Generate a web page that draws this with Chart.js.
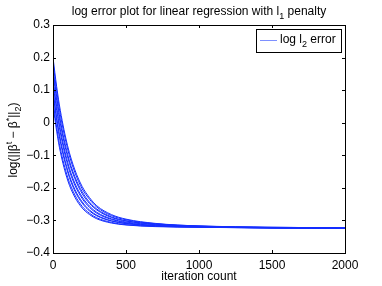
<!DOCTYPE html>
<html>
<head>
<meta charset="utf-8">
<script src="https://cdn.jsdelivr.net/npm/chart.js@4"></script>
<style>
  html, body { margin: 0; padding: 0; background: #fff; }
  #wrap { width: 382px; height: 286px; }
</style>
</head>
<body>
<div id="wrap"><canvas id="errChart" width="382" height="286"></canvas></div>
<script>
const iterations = [0, 25, 50, 100, 150, 200, 250, 300, 400, 500, 700, 1000, 1500, 2000];

// log l2 error, one array per run
const run1  = [0.200, 0.111, 0.038, -0.071, -0.145, -0.196, -0.230, -0.255, -0.282, -0.296, -0.309, -0.317, -0.321, -0.323];
const run2  = [0.186, 0.098, 0.026, -0.081, -0.153, -0.203, -0.235, -0.259, -0.285, -0.298, -0.310, -0.317, -0.321, -0.323];
const run3  = [0.165, 0.080, 0.008, -0.097, -0.166, -0.212, -0.244, -0.265, -0.289, -0.301, -0.311, -0.318, -0.322, -0.324];
const run4  = [0.155, 0.069, -0.002, -0.105, -0.172, -0.218, -0.248, -0.268, -0.291, -0.302, -0.312, -0.318, -0.322, -0.324];
const run5  = [0.133, 0.049, -0.020, -0.121, -0.186, -0.228, -0.256, -0.275, -0.295, -0.305, -0.313, -0.319, -0.322, -0.324];
const run6  = [0.122, 0.038, -0.030, -0.129, -0.192, -0.233, -0.260, -0.278, -0.297, -0.307, -0.315, -0.319, -0.323, -0.324];
const run7  = [0.100, 0.016, -0.050, -0.145, -0.205, -0.243, -0.268, -0.284, -0.301, -0.309, -0.316, -0.320, -0.323, -0.324];
const run8  = [0.091, 0.008, -0.058, -0.151, -0.210, -0.247, -0.271, -0.286, -0.302, -0.310, -0.317, -0.320, -0.323, -0.324];
const run9  = [0.068, -0.014, -0.078, -0.167, -0.222, -0.257, -0.278, -0.292, -0.306, -0.313, -0.318, -0.321, -0.323, -0.324];
const run10 = [0.055, -0.026, -0.089, -0.176, -0.229, -0.262, -0.282, -0.295, -0.308, -0.314, -0.319, -0.321, -0.323, -0.324];
const runs = [run1, run2, run3, run4, run5, run6, run7, run8, run9, run10];

const xTicks = [0, 500, 1000, 1500, 2000];
const yTicks = [-0.4, -0.3, -0.2, -0.1, 0, 0.1, 0.2, 0.3];

const FONT = "'Liberation Sans', Arial, Helvetica, sans-serif";
const BLUE = "rgb(20, 45, 255)";

// draw text pieces with sub/superscripts
function richText(ctx, parts, x, y, size, align) {
  const small = Math.round(size * 0.72);
  let total = 0;
  parts.forEach(p => {
    ctx.font = (p.sub || p.sup ? small : size) + "px " + FONT;
    p.w = ctx.measureText(p.t).width;
    total += p.w;
  });
  let cx = align === "center" ? x - total / 2 : x;
  ctx.textAlign = "left";
  ctx.textBaseline = "alphabetic";
  parts.forEach(p => {
    ctx.font = (p.sub || p.sup ? small : size) + "px " + FONT;
    const dy = p.sub ? size * 0.3 : p.sup ? -size * 0.45 : 0;
    ctx.fillText(p.t, cx, y + dy);
    cx += p.w;
  });
}

const matlabLook = {
  id: "matlabLook",
  afterDraw(chart) {
    const ctx = chart.ctx;
    const a = chart.chartArea;
    const xs = chart.scales.x, ys = chart.scales.y;
    ctx.save();
    ctx.strokeStyle = "#000";
    ctx.lineWidth = 1;
    // box
    ctx.strokeRect(Math.round(a.left) + 0.5, Math.round(a.top) + 0.5,
      Math.round(a.right - a.left), Math.round(a.bottom - a.top));
    // inward ticks on all sides
    ctx.beginPath();
    xTicks.forEach(v => {
      const px = Math.round(xs.getPixelForValue(v)) + 0.5;
      ctx.moveTo(px, a.bottom); ctx.lineTo(px, a.bottom - 3);
      ctx.moveTo(px, a.top); ctx.lineTo(px, a.top + 3);
    });
    yTicks.forEach(v => {
      const py = Math.round(ys.getPixelForValue(v)) + 0.5;
      ctx.moveTo(a.left, py); ctx.lineTo(a.left + 3, py);
      ctx.moveTo(a.right, py); ctx.lineTo(a.right - 3, py);
    });
    ctx.stroke();

    ctx.fillStyle = "#000";
    // title
    richText(ctx, [
      { t: "log error plot for linear regression with l" },
      { t: "1", sub: true },
      { t: " penalty" }
    ], 199, 15, 12, "center");

    // x label
    richText(ctx, [{ t: "iteration count" }], 199, 280, 12, "center");

    // y label, rotated
    ctx.save();
    ctx.translate(17, 140);
    ctx.rotate(-Math.PI / 2);
    richText(ctx, [
      { t: "log(||\u03b2" },
      { t: "t", sup: true },
      { t: " \u2212 \u03b2" },
      { t: "*", sup: true },
      { t: "||" },
      { t: "2", sub: true },
      { t: ")" }
    ], 0, 0, 12, "center");
    ctx.restore();

    // legend
    ctx.fillStyle = "#fff";
    ctx.fillRect(256, 29, 85, 23);
    ctx.strokeRect(256.5, 29.5, 85, 23);
    ctx.strokeStyle = "rgba(40, 70, 255, 0.6)";
    ctx.beginPath();
    ctx.moveTo(260, 40.5); ctx.lineTo(277, 40.5);
    ctx.stroke();
    ctx.fillStyle = "#000";
    richText(ctx, [
      { t: "log l" },
      { t: "2", sub: true },
      { t: " error" }
    ], 280, 43, 12, "left");
    ctx.restore();
  }
};

const datasets = runs.map((r, i) => ({
  label: i === 0 ? "log l2 error" : "run " + (i + 1),
  data: iterations.map((t, k) => ({ x: t, y: r[k] })),
  borderColor: BLUE,
  borderWidth: 1,
  pointRadius: 0,
  fill: false,
  cubicInterpolationMode: "monotone"
}));

const fmtY = v => v === 0 ? "0" : (v < 0 ? "\u2212" : "") + Math.abs(v).toFixed(1);

new Chart(document.getElementById("errChart").getContext("2d"), {
  type: "line",
  data: { datasets: datasets },
  options: {
    responsive: false,
    animation: false,
    layout: { padding: { left: 0, right: 37, top: 25, bottom: 0 } },
    plugins: {
      legend: { display: false },
      title: { display: false },
      tooltip: { enabled: false }
    },
    scales: {
      x: {
        type: "linear",
        min: 0,
        max: 2000,
        grid: { display: false, drawTicks: false },
        border: { display: false },
        afterBuildTicks: s => { s.ticks = xTicks.map(v => ({ value: v })); },
        afterFit: s => { s.height = 33; },
        ticks: {
          autoSkip: false,
          maxRotation: 0,
          padding: 5,
          color: "#000",
          font: { family: FONT, size: 12 },
          callback: v => String(v)
        }
      },
      y: {
        type: "linear",
        min: -0.4,
        max: 0.3,
        grid: { display: false, drawTicks: false },
        border: { display: false },
        afterBuildTicks: s => { s.ticks = yTicks.map(v => ({ value: v })); },
        afterFit: s => { s.width = 53; },
        ticks: {
          autoSkip: false,
          padding: 3,
          color: "#000",
          font: { family: FONT, size: 12 },
          callback: v => fmtY(v)
        }
      }
    }
  },
  plugins: [matlabLook]
});
</script>
</body>
</html>
